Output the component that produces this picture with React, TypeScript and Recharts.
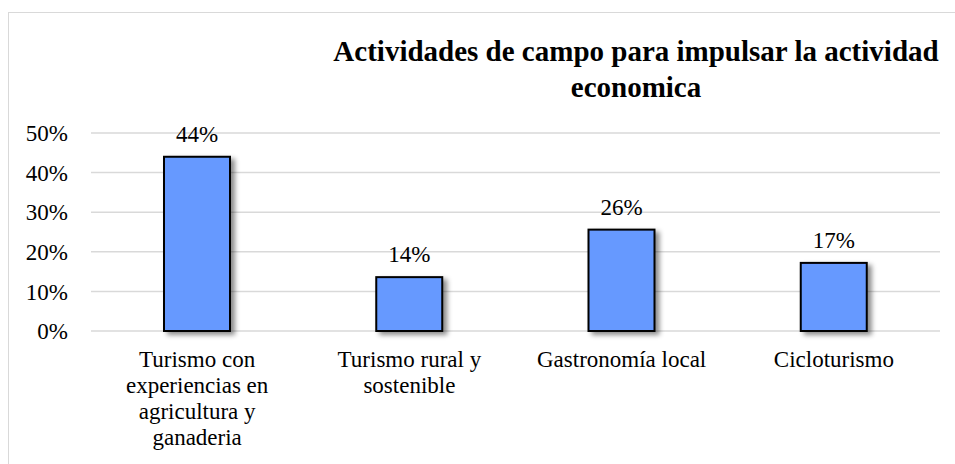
import React from "react";
import { BarChart, Bar, XAxis, YAxis, CartesianGrid, LabelList } from "recharts";

const categories = [
  "Turismo con experiencias en agricultura y ganaderia",
  "Turismo rural y sostenible",
  "Gastronomía local",
  "Cicloturismo",
];
const categoryLines = [
  ["Turismo con", "experiencias en", "agricultura y", "ganaderia"],
  ["Turismo rural y", "sostenible"],
  ["Gastronomía local"],
  ["Cicloturismo"],
];
const values = [0.44, 0.136, 0.256, 0.172];
const yTicks = [0, 0.1, 0.2, 0.3, 0.4, 0.5];
const titleLines = ["Actividades de campo para impulsar la actividad", "economica"];

const data = categories.map((c, i) => ({ name: c, idx: i, value: values[i] }));

const FONT = "'Liberation Serif', 'Times New Roman', 'DejaVu Serif', serif";
const pct = (v: number) => `${Math.round(v * 100)}%`;

const XTick = (props: any) => {
  const { x, y, payload } = props;
  const lines = categoryLines[payload.index] || [String(payload.value)];
  return (
    <text x={x} y={y} textAnchor="middle" fontFamily={FONT} fontSize={23} fill="#000">
      {lines.map((l, i) => (
        <tspan key={i} x={x} dy={i === 0 ? 28 : 26}>
          {l}
        </tspan>
      ))}
    </text>
  );
};

const BarShape = (props: any) => {
  const { x, y, width, height } = props;
  return (
    <rect
      x={x}
      y={y}
      width={width}
      height={height}
      fill="#6699FF"
      stroke="#000"
      strokeWidth={2}
      filter="url(#barShadow)"
    />
  );
};

export default function App() {
  return (
    <div style={{ position: "absolute", left: 0, top: 0, width: 955, height: 464, overflow: "hidden", background: "#fff", fontFamily: FONT }}>
      <div
        style={{
          position: "absolute",
          left: 8,
          top: 12,
          width: 980,
          height: 480,
          border: "1.5px solid #d9d9d9",
          boxSizing: "border-box",
        }}
      />
      <div style={{ position: "absolute", left: 0, top: 0 }}>
        <BarChart
          width={955}
          height={464}
          data={data}
          margin={{ top: 133, right: 15, bottom: 0, left: 0 }}
          style={{ fontFamily: FONT }}
        >
          <defs>
            <filter id="barShadow" x="-30%" y="-30%" width="170%" height="170%">
              <feDropShadow dx={4} dy={3} stdDeviation={2.5} floodColor="#000" floodOpacity={0.45} />
            </filter>
          </defs>
          <text x={636} y={61} textAnchor="middle" fontFamily={FONT} fontSize={29} fontWeight="bold" fill="#000">
            {titleLines[0]}
          </text>
          <text x={636} y={97} textAnchor="middle" fontFamily={FONT} fontSize={29} fontWeight="bold" fill="#000">
            {titleLines[1]}
          </text>
          <CartesianGrid vertical={false} stroke="#d9d9d9" strokeWidth={1.5} />
          <XAxis
            dataKey="name"
            axisLine={false}
            tickLine={false}
            height={133}
            interval={0}
            tick={<XTick />}
          />
          <YAxis
            domain={[0, 0.5]}
            ticks={yTicks}
            tickFormatter={pct}
            axisLine={false}
            tickLine={false}
            width={91}
            tickMargin={17}
            tick={{ fontFamily: FONT, fontSize: 23, fill: "#000" }}
          />
          <Bar dataKey="value" barSize={66} shape={<BarShape />} isAnimationActive={false}>
            <LabelList
              dataKey="value"
              position="top"
              offset={15}
              formatter={(v: any) => pct(Number(v))}
              fontFamily={FONT}
              fontSize={23}
              fill="#000"
            />
          </Bar>
        </BarChart>
      </div>
    </div>
  );
}
